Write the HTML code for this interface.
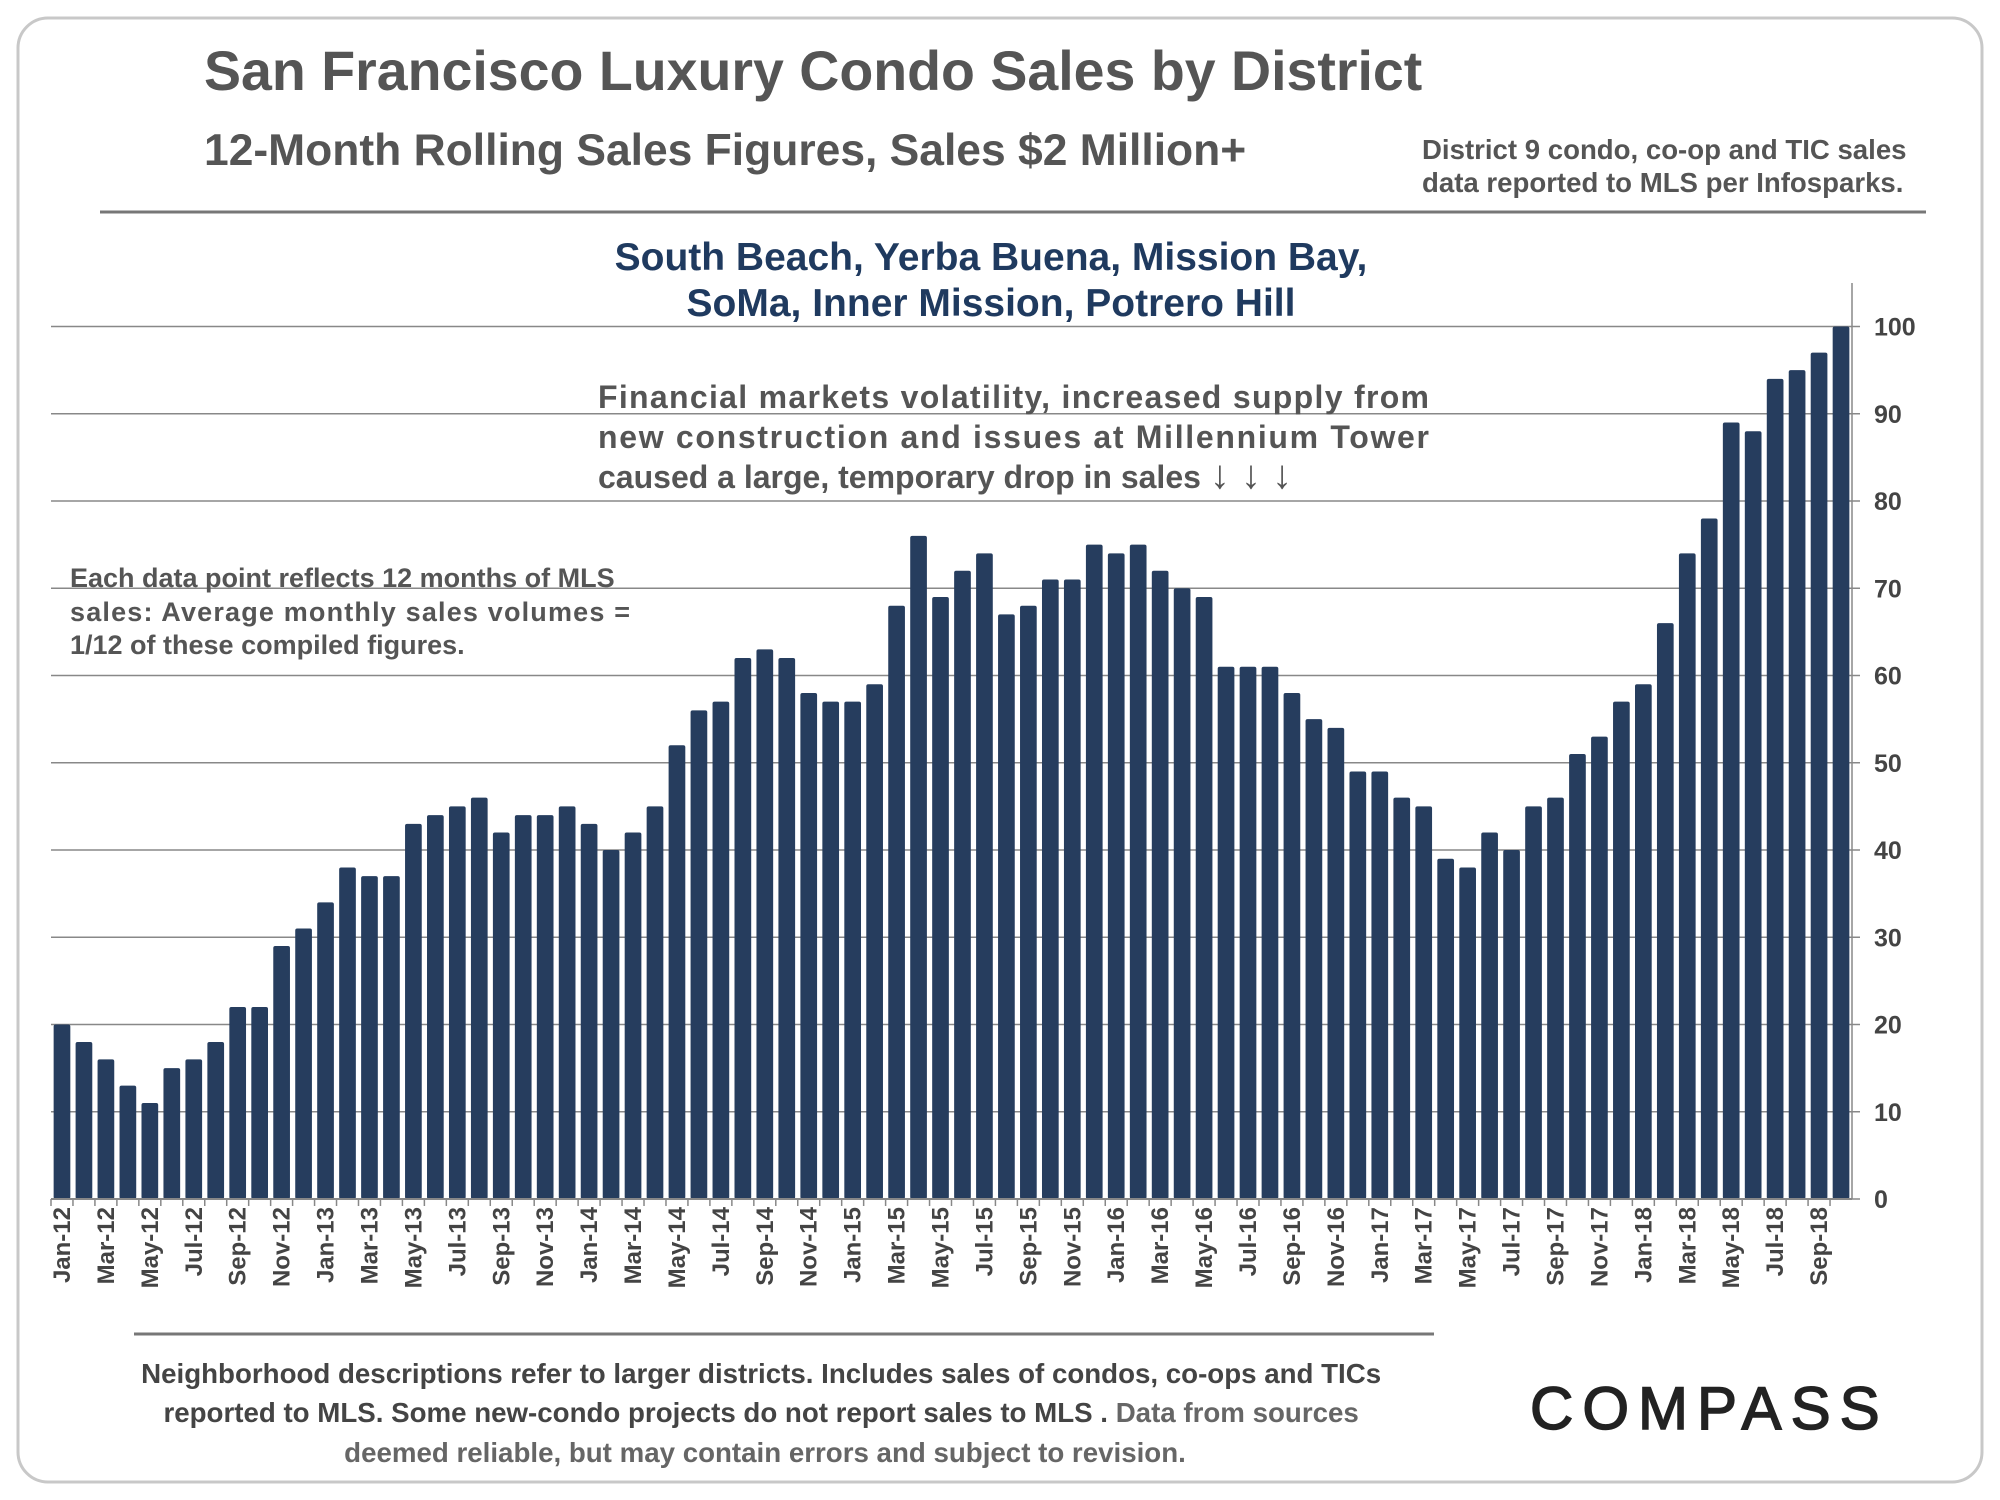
<!DOCTYPE html>
<html><head><meta charset="utf-8"><style>
html,body{margin:0;padding:0;background:#fff;}
svg{display:block;font-family:"Liberation Sans",Arial,sans-serif;}
</style></head><body>
<svg id="chart" width="2000" height="1500" viewBox="0 0 2000 1500">
<rect x="18" y="18" width="1964" height="1464" rx="30" fill="#fff" stroke="#c8c8c8" stroke-width="3"/>
<text x="204" y="90" font-size="55.5" font-weight="bold" fill="#555">San Francisco Luxury Condo Sales by District</text>
<text x="204" y="165" font-size="44.4" font-weight="bold" fill="#555">12-Month Rolling Sales Figures, Sales $2 Million+</text>
<text x="1422" y="159" font-size="27.6" font-weight="bold" fill="#555"><tspan x="1422">District 9 condo, co-op and TIC sales</tspan><tspan x="1422" dy="33">data reported to MLS per Infosparks.</tspan></text>
<line x1="100" y1="212" x2="1926" y2="212" stroke="#777" stroke-width="3"/>
<text x="991" y="270" font-size="39" font-weight="bold" fill="#1f3a5f" text-anchor="middle"><tspan x="991">South Beach, Yerba Buena, Mission Bay,</tspan><tspan x="991" dy="46">SoMa, Inner Mission, Potrero Hill</tspan></text>
<g id="grid"></g>
<g id="bars"></g>
<g id="yaxis"></g>
<g id="xaxis"></g>
<text font-size="32" font-weight="bold" fill="#555">
<tspan x="598" y="408" textLength="831" lengthAdjust="spacing">Financial markets volatility, increased supply from</tspan>
<tspan x="598" y="448" textLength="831" lengthAdjust="spacing">new construction and issues at Millennium Tower</tspan>
<tspan x="598" y="488">caused a large, temporary drop in sales <tspan font-size="40">↓ ↓ ↓</tspan></tspan></text>
<text font-size="27" font-weight="bold" fill="#555">
<tspan x="70" y="587">Each data point reflects 12 months of MLS</tspan>
<tspan x="70" y="621" textLength="560" lengthAdjust="spacing">sales:  Average monthly sales volumes =</tspan>
<tspan x="70" y="654">1/12 of these compiled figures.</tspan></text>
<line x1="134" y1="1334" x2="1434" y2="1334" stroke="#777" stroke-width="3"/>
<text font-size="27.7" font-weight="bold" fill="#444" text-anchor="middle">
<tspan x="765" y="1383">Neighborhood descriptions refer to larger districts. Includes sales of condos, co-ops and TICs</tspan>
<tspan x="765" y="1422">reported to MLS. Some new-condo projects do not report sales to MLS . <tspan fill="#666">Data from sources</tspan></tspan>
<tspan x="765" y="1462" fill="#666">deemed reliable, but may contain errors and subject to revision.</tspan></text>
<text x="1530" y="1429" font-size="60" fill="#222" stroke="#222" stroke-width="1.5" letter-spacing="9">COMPASS</text>
</svg>
<script>
const months=["Jan","Feb","Mar","Apr","May","Jun","Jul","Aug","Sep","Oct","Nov","Dec"];
const categories=[];
for(let y=12;y<=18;y++){for(let m=0;m<12;m++){if(y===18&&m>9)break;categories.push(months[m]+"-"+y);}}
const salesValues=[20,18,16,13,11,15,16,18,22,22,29,31,
34,38,37,37,43,44,45,46,42,44,44,45,
43,40,42,45,52,56,57,62,63,62,58,57,
57,59,68,76,69,72,74,67,68,71,71,75,
74,75,72,70,69,61,61,61,58,55,54,49,
49,46,45,39,38,42,40,45,46,51,53,57,
59,66,74,78,89,88,94,95,97,100];
const yTicks=[0,10,20,30,40,50,60,70,80,90,100];
const NS="http://www.w3.org/2000/svg";
const X0=51,X1=1852,Y0=1199,Y100=326.5;
const pitch=(X1-X0)/categories.length;
const xs=i=>X0+pitch*(i+0.5);
const ys=v=>Y0-(Y0-Y100)*v/100;
function mk(t,a,p){const e=document.createElementNS(NS,t);for(const k in a)e.setAttribute(k,a[k]);p.appendChild(e);return e;}
const grid=document.getElementById('grid'),bars=document.getElementById('bars'),ya=document.getElementById('yaxis'),xa=document.getElementById('xaxis');
yTicks.forEach(v=>{
 if(v>0){const l=mk('line',{x1:X0,x2:X1,y1:ys(v),y2:ys(v),stroke:'#888','stroke-width':1.5},grid);
 
 }
 const tk=mk('line',{x1:X1,x2:X1+8,y1:ys(v),y2:ys(v),stroke:'#888','stroke-width':1.5},ya);
 
 
 const t=mk('text',{x:X1+22,y:ys(v)+9,'font-size':25,'font-weight':'bold',fill:'#444'},ya);
 t.textContent=v;
 
 
});
const ax=mk('line',{x1:X1,x2:X1,y1:283,y2:Y0,stroke:'#888','stroke-width':1.5},ya);


const bw=pitch*0.76;
salesValues.forEach((v,i)=>{
 const r=mk('rect',{x:xs(i)-bw/2,y:ys(v),width:bw,height:Y0-ys(v),fill:'#263d5e',rx:2},bars);
 
 
});
const xl=mk('line',{x1:X0,x2:X1,y1:Y0,y2:Y0,stroke:'#888','stroke-width':2},xa);


categories.forEach((c,i)=>{
 const tk=mk('line',{x1:X0+pitch*i,x2:X0+pitch*i,y1:Y0,y2:Y0+7,stroke:'#888','stroke-width':1.5},xa);
 
 
 if(i%2===0){
  const x=xs(i)+8,y=Y0+8;
  const t=mk('text',{x:x,y:y,'font-size':24,'font-weight':'bold',fill:'#444','text-anchor':'end',transform:`rotate(-90 ${x} ${y})`},xa);
  t.textContent=c;
  
  
 }
});
</script>
</body></html>
